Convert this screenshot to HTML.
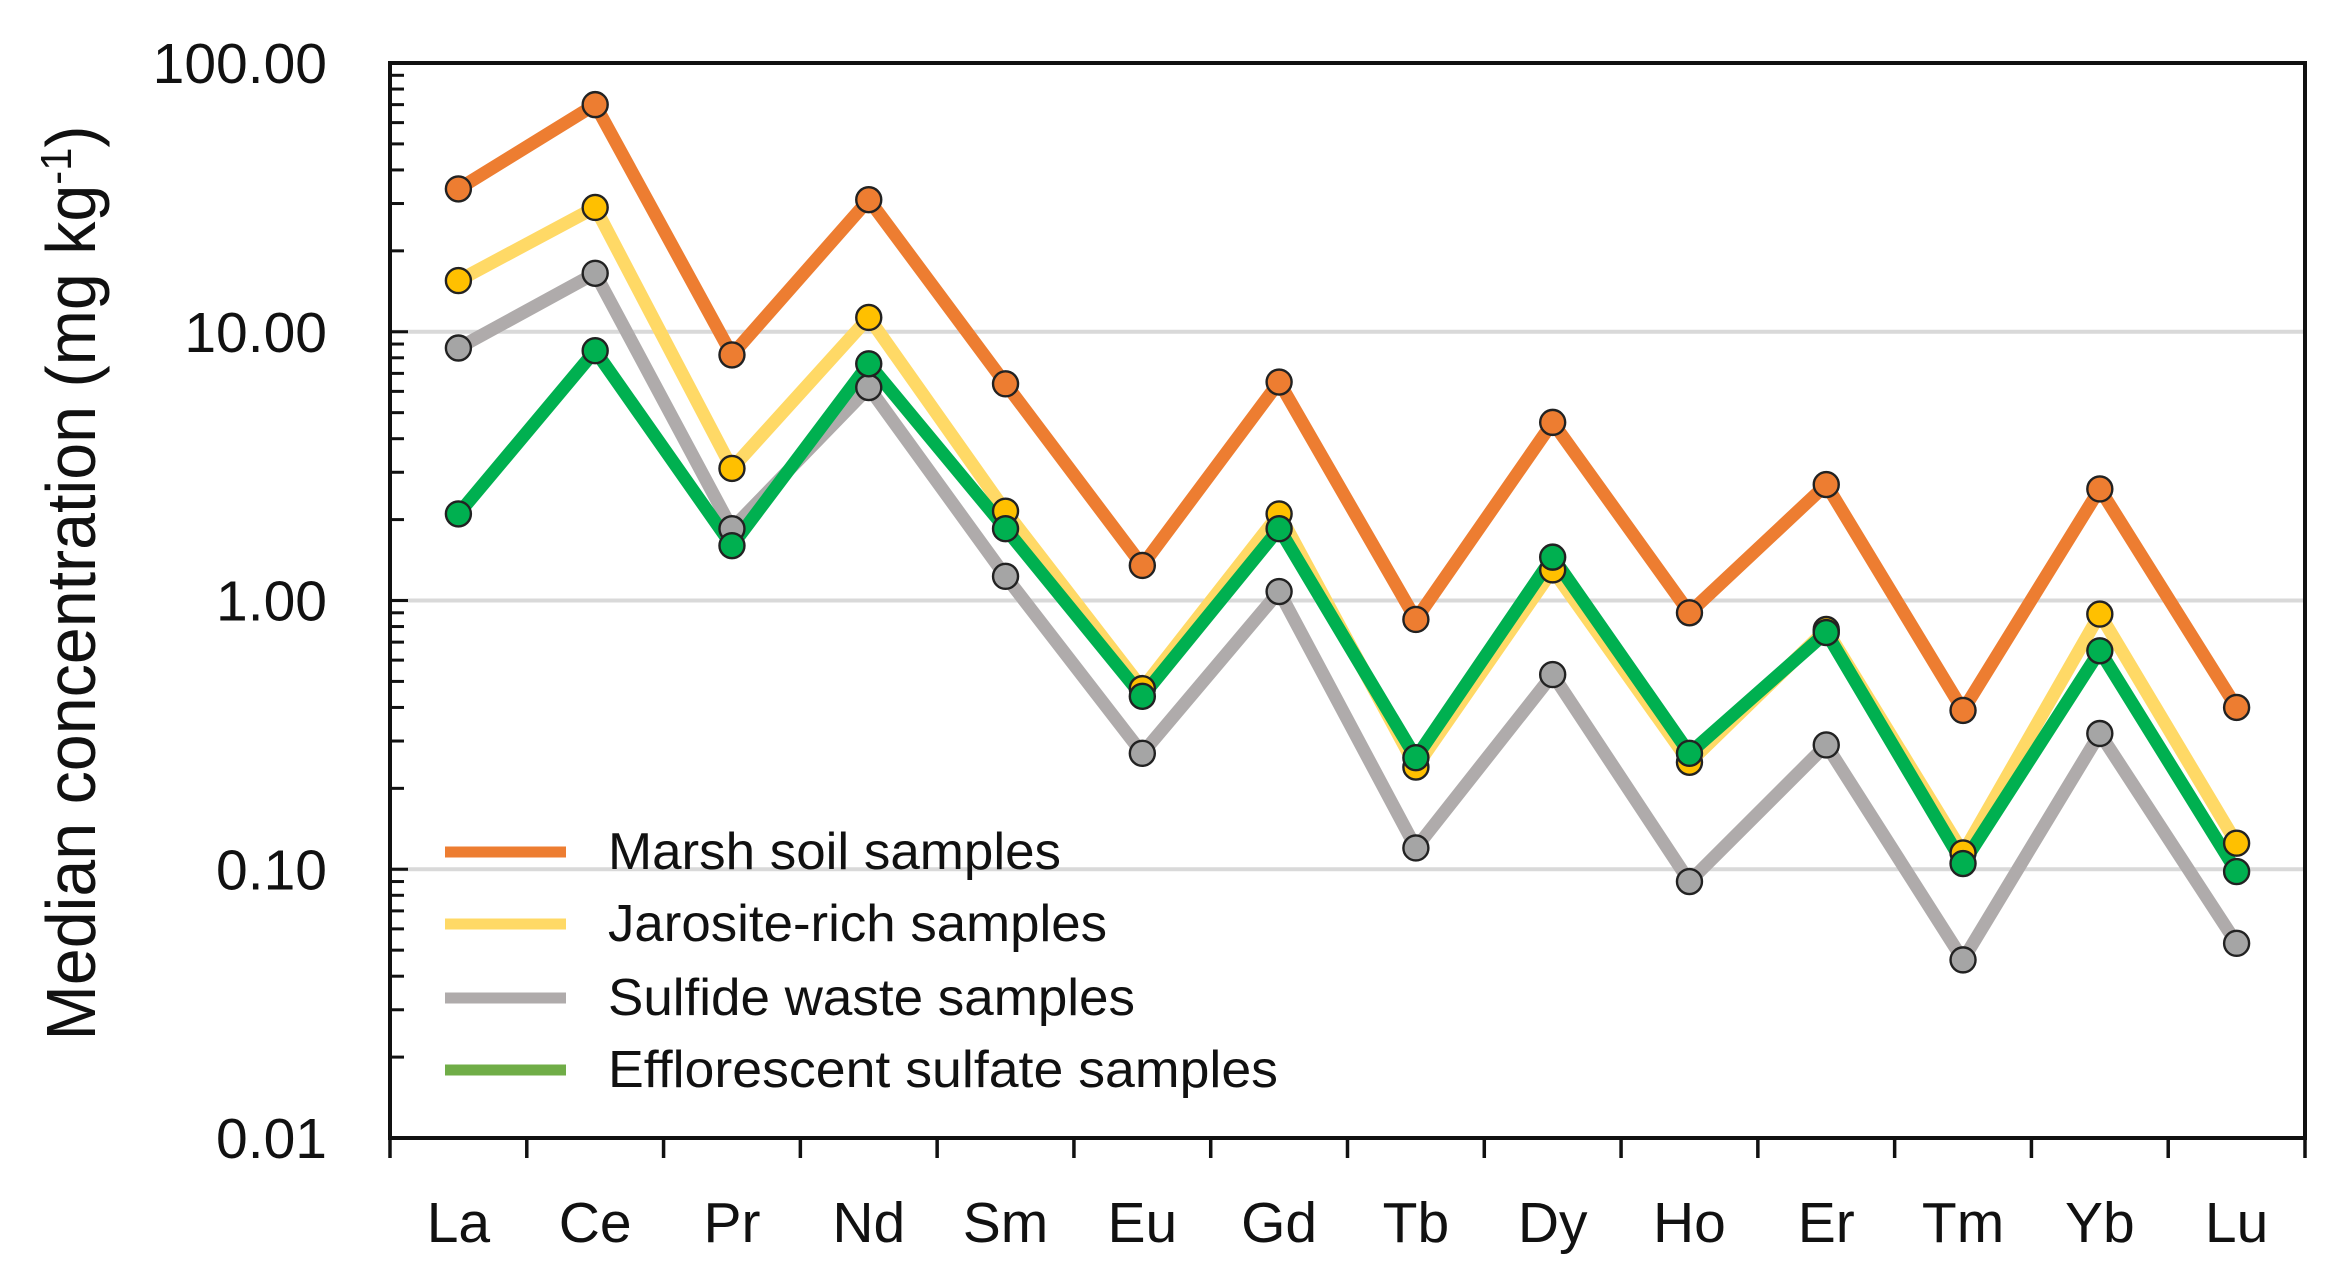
<!DOCTYPE html>
<html><head><meta charset="utf-8"><style>
html,body{margin:0;padding:0;background:#fff;}
svg{display:block;}
text{font-family:"Liberation Sans",sans-serif;fill:#111;}
</style></head>
<body>
<svg id="chart" width="2350" height="1280" viewBox="0 0 2350 1280" xmlns="http://www.w3.org/2000/svg">
<g id="grid"></g>
<g id="series"></g>
<g id="axes"></g>
<text transform="translate(95,583) rotate(-90)" text-anchor="middle" font-size="70" textLength="915" lengthAdjust="spacingAndGlyphs">Median concentration (mg kg<tspan font-size="44" dy="-24">-1</tspan><tspan dy="24">)</tspan></text>
<g id="legend"></g>
</svg>
<script>
const categories = ["La","Ce","Pr","Nd","Sm","Eu","Gd","Tb","Dy","Ho","Er","Tm","Yb","Lu"];
const marsh = [34,70,8.2,31,6.4,1.35,6.5,0.85,4.6,0.9,2.7,0.39,2.6,0.40];
const jarosite = [15.5,29,3.1,11.3,2.15,0.47,2.1,0.24,1.3,0.25,0.78,0.115,0.89,0.125];
const sulfide = [8.7,16.5,1.85,6.2,1.23,0.27,1.08,0.12,0.53,0.09,0.29,0.046,0.32,0.053];
const efflorescent = [2.1,8.5,1.6,7.6,1.85,0.44,1.85,0.26,1.45,0.27,0.76,0.105,0.65,0.098];
const yTickValues = [100,10,1,0.1,0.01];
const yTickLabels = ["100.00","10.00","1.00","0.10","0.01"];
const seriesNames = ["Marsh soil samples","Jarosite-rich samples","Sulfide waste samples","Efflorescent sulfate samples"];

const NS="http://www.w3.org/2000/svg";
const L=390,R=2305,T=63,B=1138;
const band=(R-L)/categories.length;
function x(i){return L+band*(i+0.5);}
function y(v){return T+(2-Math.log10(v))*(B-T)/4;}
function mk(tag,attrs,parent){const e=document.createElementNS(NS,tag);for(const k in attrs)e.setAttribute(k,attrs[k]);parent.appendChild(e);return e;}

const grid=document.getElementById('grid');
[10,1,0.1].forEach(v=>{
  const g=mk('line',{x1:L,x2:R,y1:y(v),y2:y(v),stroke:'#d9d9d9','stroke-width':4},grid);
  
  
});

const sl=document.getElementById('series');
const defs=[
  {d:marsh,line:'#ED7D31',fill:'#ED7D31',name:'marsh'},
  {d:sulfide,line:'#AFABAB',fill:'#A5A5A5',name:'sulfide'},
  {d:jarosite,line:'#FFD966',fill:'#FFC000',name:'jarosite'},
  {d:efflorescent,line:'#00B050',fill:'#00B050',name:'efflorescent'}
];
defs.forEach(s=>{
  const pts=s.d.map((v,i)=>x(i)+','+y(v)).join(' ');
  const pl=mk('polyline',{points:pts,fill:'none',stroke:s.line,'stroke-width':13,'stroke-linejoin':'miter'},sl);
  
  
});
defs.forEach(s=>{
  s.d.forEach((v,i)=>{
    const c=mk('circle',{cx:x(i),cy:y(v),r:12.5,fill:s.fill,stroke:'#222','stroke-width':2.4},sl);
    
    
  });
});

const ax=document.getElementById('axes');
const frame=mk('rect',{x:L,y:T,width:R-L,height:B-T,fill:'none',stroke:'#111','stroke-width':4},ax);


for(let d=-2;d<2;d++){
  for(let m=1;m<10;m++){
    const v=m*Math.pow(10,d);
    const t=mk('line',{x1:L,x2:L+(m===1?18:14),y1:y(v),y2:y(v),stroke:'#111','stroke-width':3},ax);
    
    
  }
}
yTickValues.forEach((v,i)=>{
  const t=mk('text',{x:327,y:y(v)+20,'text-anchor':'end','font-size':57},ax);
  t.textContent=yTickLabels[i];
  
  
});
for(let i=0;i<=categories.length;i++){
  const xx=L+band*i;
  const t=mk('line',{x1:xx,x2:xx,y1:B,y2:B+20,stroke:'#111','stroke-width':3.5},ax);
  
  
}
categories.forEach((c,i)=>{
  const t=mk('text',{x:x(i),y:1242,'text-anchor':'middle','font-size':57},ax);
  t.textContent=c;
  
  
});

const lg=document.getElementById('legend');
const legColors=['#ED7D31','#FFD966','#AFABAB','#70AD47'];
const legY=[852,924,998,1070];
const legW=[453,499,527,670];
seriesNames.forEach((n,i)=>{
  const l=mk('line',{x1:445,x2:566,y1:legY[i],y2:legY[i],stroke:legColors[i],'stroke-width':11},lg);
  
  
  const t=mk('text',{x:608,y:legY[i]+17,'font-size':52,textLength:legW[i],lengthAdjust:'spacingAndGlyphs'},lg);
  t.textContent=n;
  
  
});
</script>
</body></html>
